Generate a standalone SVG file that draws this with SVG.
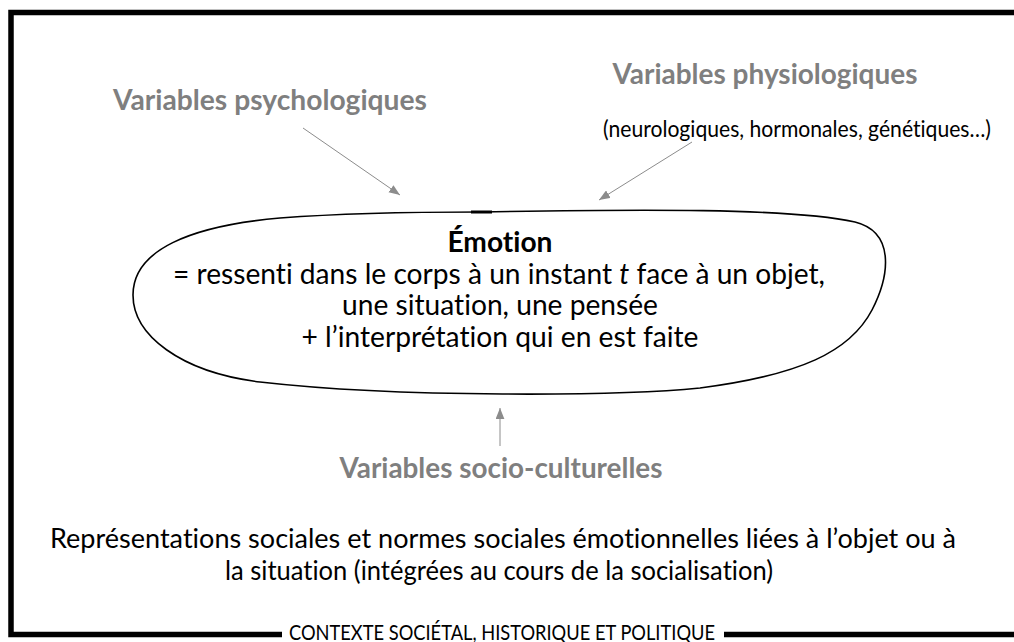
<svg xmlns="http://www.w3.org/2000/svg" width="1014" height="642" viewBox="0 0 1014 642">
<style>
  text { font-family: Lato, "Liberation Sans", sans-serif; text-anchor: middle; font-variant-ligatures: none; font-feature-settings: "liga" 0; }
  .gray { fill: #7f7f7f; font-weight: bold; font-size: 28px; }
  .body { fill: #000; font-size: 28.5px; }
  .conn { stroke: #8c8c8c; stroke-width: 1; fill: none; marker-end: url(#arr); }
</style>
<defs>
  <marker id="arr" viewBox="0 0 10 8" markerWidth="11" markerHeight="9" refX="10" refY="4" orient="auto" markerUnits="userSpaceOnUse">
    <path d="M0,0 L10,4 L0,8 z" fill="#8c8c8c"/>
  </marker>
</defs>
<rect width="1014" height="642" fill="#fff"/>

<g id="frame">
  <path d="M1020 12.5 H11 V634.5 H282 M724 634.5 H1020" fill="none" stroke="#000" stroke-width="5.5"/>
  <text x="502" y="640" style="font-size:20.5px" fill="#000" textLength="426" lengthAdjust="spacingAndGlyphs">CONTEXTE SOCIÉTAL, HISTORIQUE ET POLITIQUE</text>
</g>

<g id="psycho">
  <text class="gray" x="270" y="110" textLength="314" lengthAdjust="spacingAndGlyphs">Variables psychologiques</text>
</g>

<g id="physio">
  <text class="gray" x="765" y="84" textLength="305" lengthAdjust="spacingAndGlyphs">Variables physiologiques</text>
  <text class="body" x="797" y="137" style="font-size:23px" textLength="388" lengthAdjust="spacingAndGlyphs">(neurologiques, hormonales, génétiques…)</text>
</g>

<g id="emotion">
  <path d="M480 212 C640 209 790 208 855 222 C895 232 890 275 872 310 C850 352 800 375 700 388 C620 396 400 398 260 382 C180 372 133 335 133 295 C133 250 190 226 280 218 C360 212 430 212 480 212 Z" fill="none" stroke="#000" stroke-width="1.6"/>
  <line x1="471" y1="212" x2="492" y2="212" stroke="#000" stroke-width="3"/>
  <text class="body" x="500" y="252" style="font-weight:bold" textLength="105" lengthAdjust="spacingAndGlyphs">Émotion</text>
  <text class="body" x="499" y="284" textLength="652" lengthAdjust="spacingAndGlyphs">= ressenti dans le corps à un instant <tspan font-style="italic">t</tspan> face à un objet,</text>
  <text class="body" x="500" y="315" textLength="316" lengthAdjust="spacingAndGlyphs">une situation, une pensée</text>
  <text class="body" x="500" y="347" textLength="397" lengthAdjust="spacingAndGlyphs">+ l’interprétation qui en est faite</text>
</g>

<g id="socio">
  <text class="gray" x="501" y="478" textLength="323" lengthAdjust="spacingAndGlyphs">Variables socio-culturelles</text>
  <text class="body" x="503" y="548" style="font-size:27px" textLength="906" lengthAdjust="spacingAndGlyphs">Représentations sociales et normes sociales émotionnelles liées à l’objet ou à</text>
  <text class="body" x="499" y="580" style="font-size:27px" textLength="548" lengthAdjust="spacingAndGlyphs">la situation (intégrées au cours de la socialisation)</text>
</g>

<g id="connectors">
  <line class="conn" x1="303" y1="128" x2="400" y2="195"/>
  <line class="conn" x1="692" y1="142" x2="599" y2="200"/>
  <line class="conn" x1="500" y1="446" x2="500" y2="408"/>
</g>
</svg>
